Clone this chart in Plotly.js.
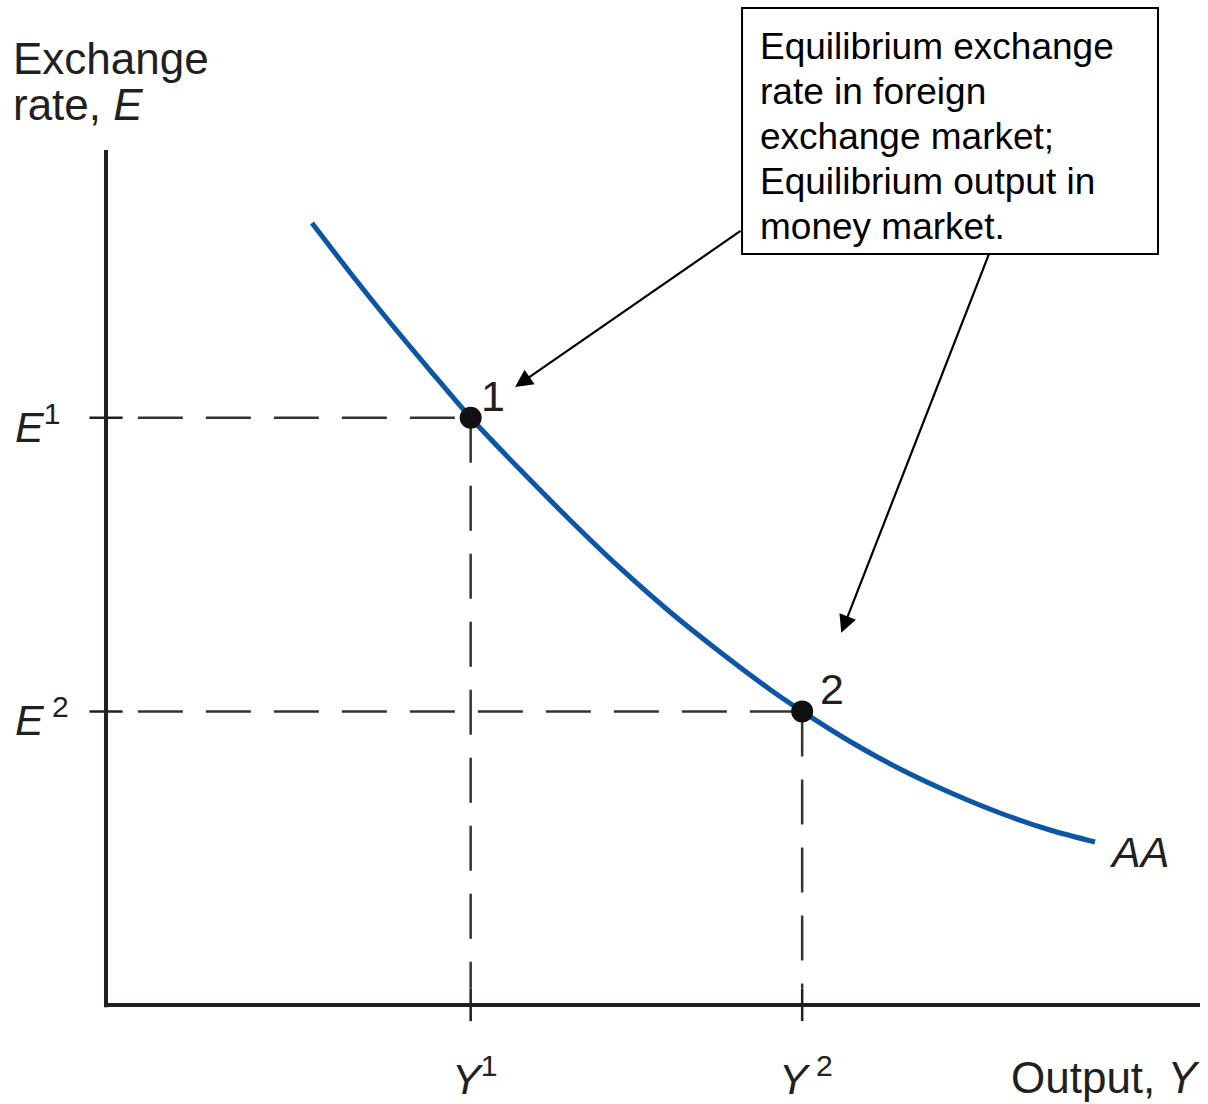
<!DOCTYPE html>
<html>
<head>
<meta charset="utf-8">
<script src="https://cdn.plot.ly/plotly-3.0.1.min.js"></script>
<style>
  html, body { margin: 0; padding: 0; background: #ffffff; }
  #chart { width: 1208px; height: 1104px; }
</style>
</head>
<body>
<div id="chart"></div>
<script>
// ---------- DATA ----------
// AA schedule (output Y on x, exchange rate E on y), arbitrary units
const curveX = [3.107, 3.680, 4.284, 4.887, 5.5, 6.244, 6.998, 7.753, 8.507, 9.261,
                10.015, 10.5, 11.222, 11.976, 12.730, 13.484, 14.238, 14.917];
const curveY = [10.654, 9.980, 9.298, 8.647, 8.0, 7.294, 6.608, 5.954, 5.354, 4.809,
                4.298, 4.0, 3.590, 3.215, 2.895, 2.616, 2.384, 2.221];
const curveName = 'AA';

// Equilibrium points
const eqX = [5.5, 10.5];            // Y1, Y2
const eqY = [8, 4];                 // E1, E2
const eqLabels = ['1', '2'];

// Tick labels
const xTickLabels = ['<i>Y</i><sup>1</sup>', '<i>Y</i><sup> 2</sup>'];
const yTickLabels = ['<i>E</i><sup>1</sup>', '<i>E</i><sup> 2</sup>'];

// Axis extents and titles
const xAxisEnd = 16.5;
const yAxisEnd = 11.65;
const xTitle = 'Output, <i>Y</i>';
const yTitleLines = ['Exchange', 'rate, <i>E</i>'];

// Callout text
const calloutLines = [
  'Equilibrium exchange',
  'rate in foreign',
  'exchange market;',
  'Equilibrium output in',
  'money market.'
];

// ---------- STYLE / LAYOUT ----------
const FONT = 'Liberation Sans, Arial, Helvetica, sans-serif';
const INK = '#231f20';
const BLUE = '#0c56a5';
const xRange = [-1.599, 16.621];
const yRange = [-1.349, 13.692];
const dashStart = 0.48;
const tickHalfX = 0.25, tickHalfY = 0.22;
const LABEL_SIZE = 43;

const traces = [];

// axes
traces.push({x: [0, 0], y: [-0.03, yAxisEnd], mode: 'lines',
  line: {color: INK, width: 4}, hoverinfo: 'skip', showlegend: false});
traces.push({x: [-0.03, xAxisEnd], y: [0, 0], mode: 'lines',
  line: {color: INK, width: 4}, hoverinfo: 'skip', showlegend: false});

// tick marks
eqX.forEach(v => traces.push({x: [v, v], y: [tickHalfY, -tickHalfY], mode: 'lines',
  line: {color: INK, width: 2.5}, hoverinfo: 'skip', showlegend: false}));
eqY.forEach(v => traces.push({x: [-tickHalfX, tickHalfX], y: [v, v], mode: 'lines',
  line: {color: INK, width: 2.5}, hoverinfo: 'skip', showlegend: false}));

// dashed guides
eqX.forEach((xv, i) => {
  traces.push({x: [dashStart, xv], y: [eqY[i], eqY[i]], mode: 'lines',
    line: {color: '#333333', width: 2.5, dash: '45px,23px'}, hoverinfo: 'skip', showlegend: false});
  traces.push({x: [xv, xv], y: [eqY[i], tickHalfY], mode: 'lines',
    line: {color: '#333333', width: 2.5, dash: '45px,23px'}, hoverinfo: 'skip', showlegend: false});
});

// AA curve
traces.push({x: curveX, y: curveY, mode: 'lines', name: curveName,
  line: {color: BLUE, width: 5, shape: 'spline', smoothing: 0.8}, showlegend: false});

// equilibrium points
traces.push({x: eqX, y: eqY, mode: 'markers',
  marker: {color: '#111111', size: 22}, showlegend: false});

const annotations = [];
// y-axis title
annotations.push({x: -1.44, y: 12.90, xref: 'x', yref: 'y', text: yTitleLines[0],
  showarrow: false, xanchor: 'left', yanchor: 'middle', font: {family: FONT, size: 44, color: INK}});
annotations.push({x: -1.44, y: 12.27, xref: 'x', yref: 'y', text: yTitleLines[1],
  showarrow: false, xanchor: 'left', yanchor: 'middle', font: {family: FONT, size: 44, color: INK}});
// x-axis title
annotations.push({x: xAxisEnd + 0.03, y: -0.99, xref: 'x', yref: 'y', text: xTitle,
  showarrow: false, xanchor: 'right', yanchor: 'middle', font: {family: FONT, size: 44, color: INK}});
// x tick labels
eqX.forEach((v, i) => annotations.push({x: v, y: -0.97, xref: 'x', yref: 'y', text: xTickLabels[i],
  showarrow: false, xanchor: 'center', yanchor: 'middle', xshift: 4,
  font: {family: FONT, size: LABEL_SIZE, color: INK}}));
// y tick labels
eqY.forEach((v, i) => annotations.push({x: -1.40, y: v, xref: 'x', yref: 'y', text: yTickLabels[i],
  showarrow: false, xanchor: 'left', yanchor: 'middle', yshift: -6,
  font: {family: FONT, size: LABEL_SIZE, color: INK}}));
// point labels
const labelShift = [[22, 22], [30, 22]];
eqX.forEach((v, i) => annotations.push({x: v, y: eqY[i], xref: 'x', yref: 'y', text: eqLabels[i],
  showarrow: false, xanchor: 'center', yanchor: 'middle',
  xshift: labelShift[i][0], yshift: labelShift[i][1],
  font: {family: FONT, size: LABEL_SIZE, color: INK}}));
// AA label
annotations.push({x: curveX[curveX.length - 1], y: curveY[curveY.length - 1], xref: 'x', yref: 'y',
  text: '<i>' + curveName + '</i>', showarrow: false, xanchor: 'left', yanchor: 'middle',
  xshift: 12, yshift: -10, font: {family: FONT, size: LABEL_SIZE, color: INK}});
// callout text, one annotation per line for exact line spacing
calloutLines.forEach((line, i) => annotations.push({x: 9.83, y: 13.36, xref: 'x', yref: 'y',
  text: line, showarrow: false, xanchor: 'left', yanchor: 'top', align: 'left',
  yshift: -45 * i, font: {family: FONT, size: 37, color: '#000000'}}));
// arrows
annotations.push({x: 6.17, y: 8.42, ax: 9.593, ay: 10.56, xref: 'x', yref: 'y', axref: 'x', ayref: 'y',
  text: '', showarrow: true, arrowhead: 2, arrowsize: 1.6, arrowwidth: 2.2, arrowcolor: '#000000'});
annotations.push({x: 11.09, y: 5.07, ax: 13.33, ay: 10.26, xref: 'x', yref: 'y', axref: 'x', ayref: 'y',
  text: '', showarrow: true, arrowhead: 2, arrowsize: 1.6, arrowwidth: 2.2, arrowcolor: '#000000'});

const shapes = [
  {type: 'rect', xref: 'x', yref: 'y', x0: 9.593, x1: 15.867, y0: 10.232, y1: 13.583,
   line: {color: '#000000', width: 2}, fillcolor: 'rgba(0,0,0,0)', layer: 'above'}
];

const layout = {
  width: 1208, height: 1104,
  margin: {l: 0, r: 0, t: 0, b: 0, pad: 0},
  paper_bgcolor: '#ffffff', plot_bgcolor: '#ffffff',
  showlegend: false,
  xaxis: {range: xRange, visible: false, fixedrange: true, domain: [0, 1]},
  yaxis: {range: yRange, visible: false, fixedrange: true, domain: [0, 1]},
  annotations: annotations,
  shapes: shapes,
  font: {family: FONT, color: INK}
};

Plotly.newPlot('chart', traces, layout, {staticPlot: true, displayModeBar: false});
</script>
</body>
</html>
